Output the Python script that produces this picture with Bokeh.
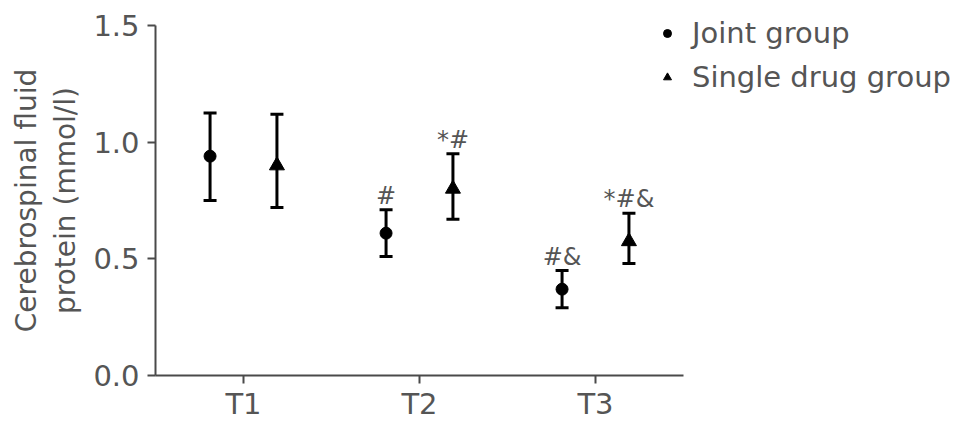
from bokeh.plotting import figure
from bokeh.models import (ColumnDataSource, FactorRange, Range1d, Whisker, TeeHead,
                          FixedTicker, PrintfTickFormatter, Legend, LegendItem)
from bokeh.transform import dodge
from bokeh.core.properties import value
from bokeh.embed import file_html
from bokeh.resources import INLINE

# ---- data ----
times = ["T1", "T2", "T3"]
joint_mean = [0.94, 0.61, 0.37]
joint_upper = [1.125, 0.71, 0.45]
joint_lower = [0.75, 0.51, 0.29]
single_mean = [0.90, 0.80, 0.575]
single_upper = [1.12, 0.95, 0.695]
single_lower = [0.72, 0.67, 0.48]
joint_marks = ["", "#", "#&"]
single_marks = ["", "*#", "*#&"]
y_ticks = [0.0, 0.5, 1.0, 1.5]

FONT = "DejaVu Sans"
TXT = "#555555"
AX = "#4a4a4a"

joint = ColumnDataSource(dict(x=times, mean=joint_mean, upper=joint_upper,
                              lower=joint_lower, mark=joint_marks))
single = ColumnDataSource(dict(x=times, mean=single_mean, upper=single_upper,
                               lower=single_lower, mark=single_marks))

p = figure(x_range=FactorRange(*times, range_padding=0),
           y_range=Range1d(0, 1.5),
           frame_width=528, frame_height=350,
           min_border_left=155, min_border_right=280,
           min_border_top=25, min_border_bottom=55,
           output_backend="svg", toolbar_location=None)

p.outline_line_color = None
p.xgrid.visible = False
p.ygrid.visible = False
p.background_fill_color = "white"
p.border_fill_color = "white"

for ax in (p.xaxis[0], p.yaxis[0]):
    ax.axis_line_color = AX
    ax.axis_line_width = 2
    ax.major_tick_line_color = AX
    ax.major_tick_line_width = 2
    ax.major_tick_out = 8
    ax.major_tick_in = 0
    ax.minor_tick_line_color = None
    ax.major_label_text_font = FONT
    ax.major_label_text_color = TXT
    ax.major_label_text_font_size = "29px"

p.yaxis.ticker = FixedTicker(ticks=y_ticks)
p.yaxis.formatter = PrintfTickFormatter(format="%.1f")
p.yaxis.major_label_standoff = 8
p.xaxis.major_label_standoff = 3
p.yaxis.axis_label = "Cerebrospinal fluid\nprotein (mmol/l)"
p.yaxis.axis_label_text_font = FONT
p.yaxis.axis_label_text_font_style = "normal"
p.yaxis.axis_label_text_color = TXT
p.yaxis.axis_label_text_font_size = "28px"
p.yaxis.axis_label_standoff = 8

off = 0.19
for src, d in ((joint, -off), (single, off)):
    w = Whisker(source=src, base=dodge("x", d, range=p.x_range),
                upper="upper", lower="lower", line_color="black", line_width=3,
                upper_head=TeeHead(size=13, line_width=3, line_color="black"),
                lower_head=TeeHead(size=13, line_width=3, line_color="black"))
    p.add_layout(w)

r_joint = p.scatter(x=dodge("x", -off, range=p.x_range), y="mean", source=joint,
                    marker="circle", size=12, color="black")
r_single = p.scatter(x=dodge("x", off, range=p.x_range), y="mean", source=single,
                     marker="triangle", size=15, color="black")

for src, d in ((joint, -off), (single, off)):
    p.text(x=dodge("x", d, range=p.x_range), y="upper", text="mark", source=src,
           text_font=value(FONT), text_font_size="24px", text_color=TXT,
           text_align="center", text_baseline="alphabetic", y_offset=-14)

legend = Legend(items=[LegendItem(label="Joint group", renderers=[r_joint]),
                       LegendItem(label="Single drug group", renderers=[r_single])],
                location=(-26, 278), orientation="vertical",
                label_text_font=FONT, label_text_font_size="29px",
                label_text_color=TXT, glyph_width=20, glyph_height=40,
                label_height=40, spacing=4, label_standoff=15,
                padding=0, margin=0, border_line_color=None,
                background_fill_alpha=0)
p.add_layout(legend, "right")

open("out.html", "w").write(file_html(p, INLINE))
